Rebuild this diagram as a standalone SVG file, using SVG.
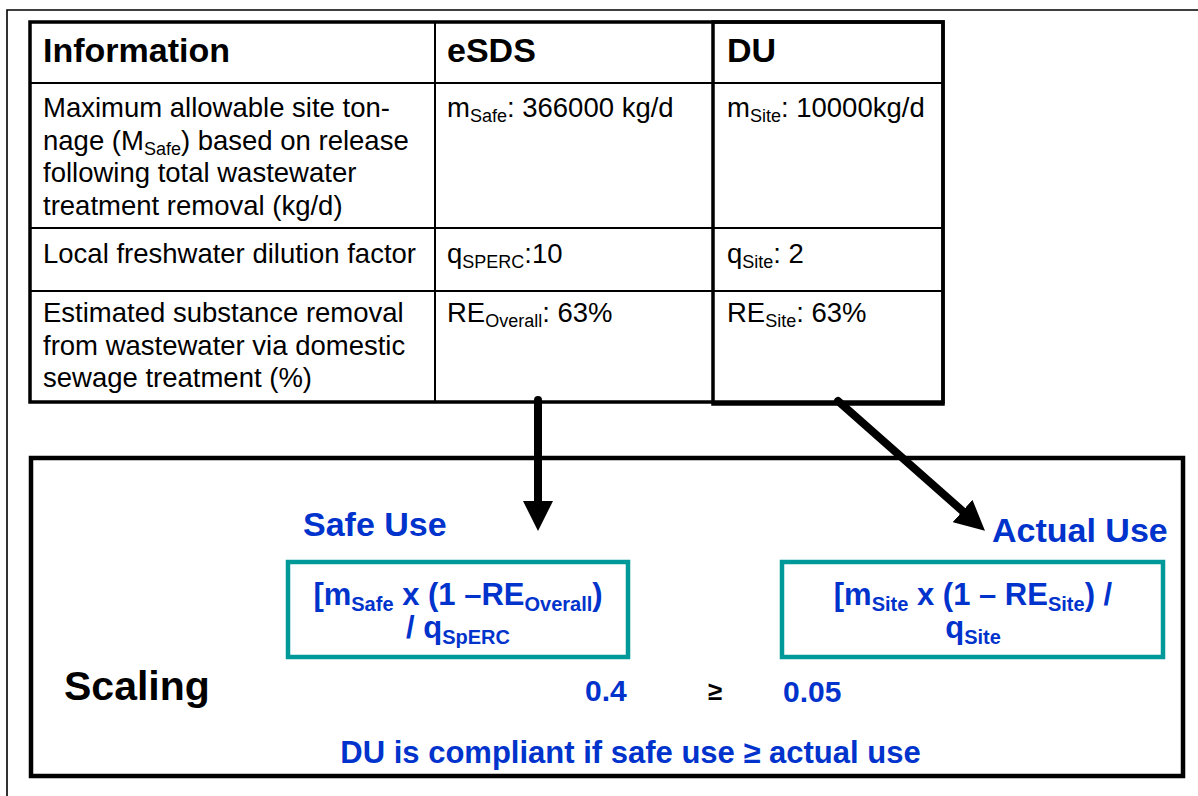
<svg xmlns="http://www.w3.org/2000/svg" width="1198" height="796" viewBox="0 0 1198 796">
<style>
text{font-family:"Liberation Sans",Arial,Helvetica,sans-serif}
.hd{font-size:34px;font-weight:bold;fill:#000}
.bd{font-size:27.5px;fill:#000}
.sb{font-size:18px}
.bl{fill:#0033cc;font-weight:bold}
.lbl{font-size:34px}
.fm{font-size:31px}
.fs{font-size:20px}
.num{font-size:30px}
.thin{stroke:#000;stroke-width:2;fill:none}
.thick{stroke:#000;stroke-width:3.5;fill:none}
.teal{stroke:#009999;stroke-width:4.5;fill:#fff}
.conn{stroke:#000;stroke-width:8;fill:none;stroke-linecap:round}
</style>
<defs>
<marker id="ah" viewBox="0 0 30 30" markerWidth="30" markerHeight="30" markerUnits="userSpaceOnUse" refX="0" refY="15" orient="auto">
<path d="M0,0 L30,15 L0,30 z" fill="#000"/>
</marker>
</defs>
<rect width="1198" height="796" fill="#fff"/>
<g id="frame">
<path d="M7,796 V10 H1198" stroke="#000" stroke-width="1.6" fill="none"/>
</g>
<g id="table">
<line class="thin" x1="435" y1="22" x2="435" y2="402"/>
<line class="thin" x1="30" y1="83" x2="943" y2="83"/>
<line class="thin" x1="30" y1="228" x2="943" y2="228"/>
<line class="thin" x1="30" y1="291" x2="943" y2="291"/>
<rect class="thick" x="30" y="22" width="913" height="380"/>
<rect class="thick" x="713" y="22" width="230" height="382"/>
<text class="hd" x="43" y="62">Information</text>
<text class="hd" x="447" y="62">eSDS</text>
<text class="hd" x="727" y="62">DU</text>
<text class="bd" x="43" y="117">Maximum allowable site ton-</text>
<text class="bd" x="43" y="149.5">nage (M<tspan class="sb" dy="5">Safe</tspan><tspan dy="-5">) based on release</tspan></text>
<text class="bd" x="43" y="182">following total wastewater</text>
<text class="bd" x="43" y="214.5">treatment removal (kg/d)</text>
<text class="bd" x="447" y="117">m<tspan class="sb" dy="5">Safe</tspan><tspan dy="-5">: 366000 kg/d</tspan></text>
<text class="bd" x="727" y="117">m<tspan class="sb" dy="5">Site</tspan><tspan dy="-5">: 10000kg/d</tspan></text>
<text class="bd" x="43" y="263">Local freshwater dilution factor</text>
<text class="bd" x="447" y="263">q<tspan class="sb" dy="5">SPERC</tspan><tspan dy="-5">:10</tspan></text>
<text class="bd" x="727" y="263">q<tspan class="sb" dy="5">Site</tspan><tspan dy="-5">: 2</tspan></text>
<text class="bd" x="43" y="322">Estimated substance removal</text>
<text class="bd" x="43" y="354.5">from wastewater via domestic</text>
<text class="bd" x="43" y="387">sewage treatment (%)</text>
<text class="bd" x="447" y="322">RE<tspan class="sb" dy="5">Overall</tspan><tspan dy="-5">: 63%</tspan></text>
<text class="bd" x="727" y="322">RE<tspan class="sb" dy="5">Site</tspan><tspan dy="-5">: 63%</tspan></text>
</g>
<g id="scaling-box">
<rect x="31" y="458" width="1152" height="318" fill="none" stroke="#000" stroke-width="4.5"/>
<text class="hd" x="64" y="700" style="font-size:41px">Scaling</text>
</g>
<g id="safe-use">
<text class="bl lbl" x="303" y="536">Safe Use</text>
<rect class="teal" x="288" y="562" width="340" height="95"/>
<text class="bl fm" x="458" y="605" text-anchor="middle">[m<tspan class="fs" dy="6">Safe</tspan><tspan dy="-6"> x (1 –RE</tspan><tspan class="fs" dy="6">Overall</tspan><tspan dy="-6">)</tspan></text>
<text class="bl fm" x="458" y="638" text-anchor="middle">/ q<tspan class="fs" dy="6">SpERC</tspan></text>
<text class="bl num" x="585" y="701">0.4</text>
</g>
<g id="actual-use">
<text class="bl lbl" x="992" y="542">Actual Use</text>
<rect class="teal" x="782" y="562" width="381" height="95"/>
<text class="bl fm" x="973" y="605" text-anchor="middle">[m<tspan class="fs" dy="6">Site</tspan><tspan dy="-6"> x (1 – RE</tspan><tspan class="fs" dy="6">Site</tspan><tspan dy="-6">) /</tspan></text>
<text class="bl fm" x="973" y="638" text-anchor="middle">q<tspan class="fs" dy="6">Site</tspan></text>
<text class="bl num" x="783" y="702">0.05</text>
</g>
<g id="comparison">
<text x="715" y="700" text-anchor="middle" style="font-size:26px;font-weight:bold;fill:#000">≥</text>
</g>
<g id="compliance-note">
<text class="bl" x="630.5" y="763" text-anchor="middle" style="font-size:31px">DU is compliant if safe use ≥ actual use</text>
</g>
<g id="connectors">
<line class="conn" x1="538" y1="400" x2="538" y2="501" marker-end="url(#ah)"/>
<line class="conn" x1="838" y1="401" x2="962.5" y2="511" marker-end="url(#ah)"/>
</g>
</svg>
